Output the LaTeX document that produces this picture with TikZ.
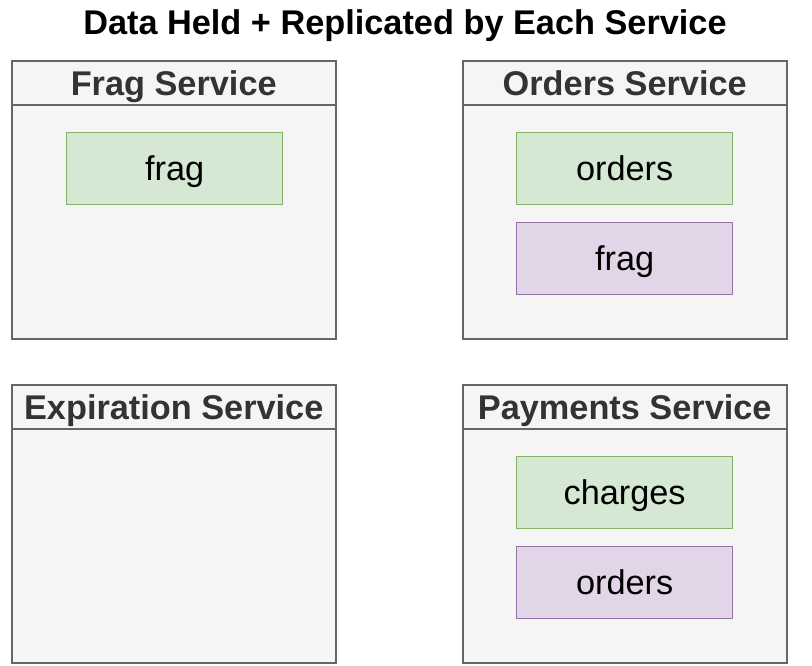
\documentclass[tikz,border=0pt]{standalone}
\usepackage{fontspec}
\setmainfont{Liberation Sans}
\begin{document}
\definecolor{boxfill}{HTML}{F5F5F5}
\definecolor{boxline}{HTML}{666666}
\definecolor{headtext}{HTML}{333333}
\definecolor{greenfill}{HTML}{D5E8D4}
\definecolor{greenline}{HTML}{82B366}
\definecolor{purplefill}{HTML}{E1D5E7}
\definecolor{purpleline}{HTML}{9673A6}
\begin{tikzpicture}[x=1pt,y=-1pt,
  bigfont/.style={font=\fontsize{34.3}{40}\selectfont, text height=24.6pt, text depth=0pt},
  container/.style={draw=boxline, fill=boxfill, line width=1.5pt, minimum width=324pt, minimum height=278pt, inner sep=0pt, anchor=north west},
  header/.style={bigfont, draw=boxline, line width=1.5pt, minimum width=324pt, minimum height=44pt, inner sep=0pt, anchor=north west, text=headtext, font=\fontsize{34.3}{40}\selectfont\bfseries},
  tablebox/.style={bigfont, line width=1.3pt, minimum width=216pt, minimum height=72pt, inner sep=0pt, anchor=north west},
  greenbox/.style={tablebox, draw=greenline, fill=greenfill},
  purplebox/.style={tablebox, draw=purpleline, fill=purplefill}]
\useasboundingbox (0,0) rectangle (812,665);
\node[bigfont, font=\fontsize{34.3}{40}\selectfont\bfseries, inner sep=0pt] (title) at (405,22) {Data Held + Replicated by Each Service};
% Frag Service
\node[container] (fragsvc) at (11,60) {};
\node[header] (fraghead) at (11,60) {Frag Service};
\node[greenbox] (fragfrag) at (66,132) {frag};
% Orders Service
\node[container] (ordsvc) at (462,60) {};
\node[header] (ordhead) at (462,60) {Orders Service};
\node[greenbox] (ordord) at (516,132) {orders};
\node[purplebox] (ordfrag) at (516,222) {frag};
% Expiration Service
\node[container] (expsvc) at (11,384) {};
\node[header] (exphead) at (11,384) {Expiration Service};
% Payments Service
\node[container] (paysvc) at (462,384) {};
\node[header] (payhead) at (462,384) {Payments Service};
\node[greenbox] (paychg) at (516,456) {charges};
\node[purplebox] (payord) at (516,546) {orders};
\end{tikzpicture}
\end{document}
